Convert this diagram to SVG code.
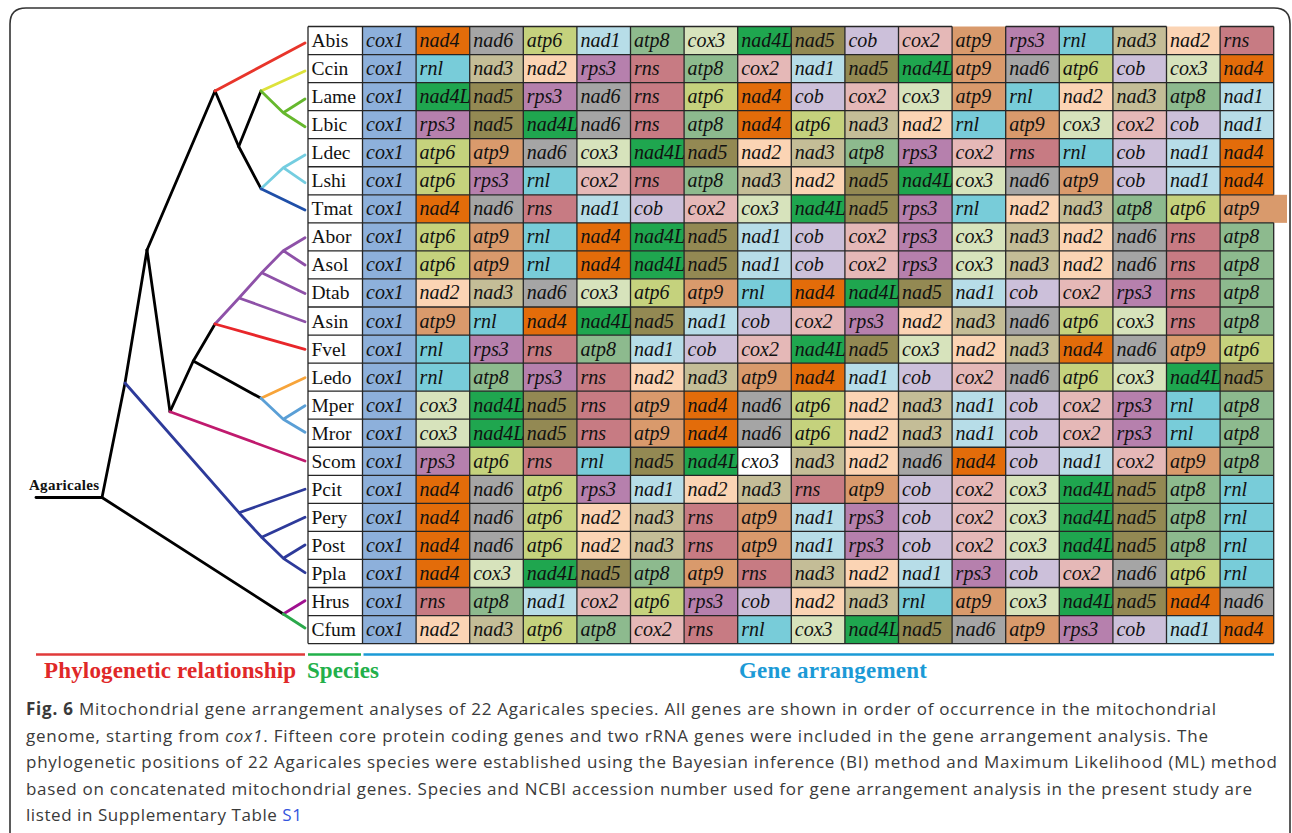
<svg xmlns="http://www.w3.org/2000/svg" width="1292" height="833" viewBox="0 0 1292 833">
<style>
.tbl text{font-family:"Liberation Serif","Times New Roman",serif;font-style:italic;font-size:20px;fill:#111}
.tbl text.s{font-style:normal;font-size:19.5px}
.sp{fill:#fff}
.cox1{fill:#8db0db}.cox2{fill:#e5b8b7}.cox3{fill:#d7e3bc}.cxo3{fill:#fff}
.nad1{fill:#b7dde8}.nad2{fill:#fbd4b4}.nad3{fill:#c4bd97}.nad4{fill:#e36c0a}.nad4L{fill:#1fa64f}.nad5{fill:#938953}.nad6{fill:#a5a5a5}
.atp6{fill:#c5d27d}.atp8{fill:#8dba8e}.atp9{fill:#d99a6c}.cob{fill:#ccc0da}.rnl{fill:#78ccd9}.rns{fill:#c77b83}.rps3{fill:#b680ad}
.br{fill:none;stroke-width:2.8;stroke-linecap:round;stroke-linejoin:round}
.lab{font-family:"Liberation Serif","Times New Roman",serif;font-weight:bold}
.cap{font-family:"Open Sans","Noto Sans","Liberation Sans",sans-serif;font-size:17px;fill:#3a3a3a}
</style>
<rect width="1292" height="833" fill="#fff"/>
<path d="M10,833 V24 Q10,8 26,8 H1274 Q1290,8 1290,24 V833" fill="none" stroke="#333" stroke-width="1.6"/>

<g id="connectors">
<g class="br" stroke="#000">
<path d="M36,497.5 H102"/>
<path d="M102,497.5 L125,383 L147,250"/>
<path d="M102,497.5 L283.3,614"/>
<path d="M147,250 L215,91"/>
<path d="M147,250 L170,411.7"/>
<path d="M215,91 L238.7,146.5 L261,188.7"/>
<path d="M238.7,146.5 L261,91"/>
<path d="M170,411.7 L193.3,361 L215,324"/>
<path d="M193.3,361 L261,398.3"/>
</g>
<path class="br" stroke="#e8352b" d="M215,91 L305,43"/>
<path class="br" stroke="#dde23b" d="M261,91 L305,71"/>
<path class="br" stroke="#66b82d" d="M261,91 L283.3,112.7 L305,99 M283.3,112.7 L305,126.7"/>
<path class="br" stroke="#74cde0" d="M261,188.7 L283.3,167.7 L305,155 M283.3,167.7 L305,182.7"/>
<path class="br" stroke="#1f4fa8" d="M261,188.7 L305,210"/>
<path class="br" stroke="#8e51a8" d="M215,324 L239,298 L261.7,272.7 L283.3,250.7 L305,237.7 M283.3,250.7 L305,265 M261.7,272.7 L305,293.5 M239,298 L305,321.7"/>
<path class="br" stroke="#e8262a" d="M215,324 L305,349.3"/>
<path class="br" stroke="#f7a43a" d="M261,398.3 L305,377.7"/>
<path class="br" stroke="#5a9fd6" d="M261,398.3 L283.3,419.3 L305,405.7 M283.3,419.3 L305,432.3"/>
<path class="br" stroke="#c01a6e" d="M170,411.7 L305,461"/>
<path class="br" stroke="#2d3a9a" d="M125,383 L239,512.7 L261.7,537.3 L283.3,558.3 L305,572.7 M239,512.7 L305,489.3 M261.7,537.3 L305,517.3 M283.3,558.3 L305,545"/>
<path class="br" stroke="#a01090" d="M283.3,614 L305,600.7"/>
<path class="br" stroke="#2aa84a" d="M283.3,614 L305,628"/>
</g>
<text class="lab" x="29" y="490" font-size="15" textLength="70" fill="#111">Agaricales</text>

<g class="tbl">
<g id="row-Abis" transform="translate(0,26.5)">
<rect class="sp" x="308" width="54.5" height="28.05"/><text class="s" x="311.5" y="20.5">Abis</text>
<rect class="cox1" x="362.5" width="53.6" height="28.05"/><text x="366" y="20.5">cox1</text>
<rect class="nad4" x="416.1" width="53.6" height="28.05"/><text x="419.6" y="20.5">nad4</text>
<rect class="nad6" x="469.7" width="53.6" height="28.05"/><text x="473.2" y="20.5">nad6</text>
<rect class="atp6" x="523.3" width="53.6" height="28.05"/><text x="526.8" y="20.5">atp6</text>
<rect class="nad1" x="576.9" width="53.6" height="28.05"/><text x="580.4" y="20.5">nad1</text>
<rect class="atp8" x="630.5" width="53.6" height="28.05"/><text x="634" y="20.5">atp8</text>
<rect class="cox3" x="684.1" width="53.6" height="28.05"/><text x="687.6" y="20.5">cox3</text>
<rect class="nad4L" x="737.7" width="53.6" height="28.05"/><text x="741.2" y="20.5">nad4L</text>
<rect class="nad5" x="791.3" width="53.6" height="28.05"/><text x="794.8" y="20.5">nad5</text>
<rect class="cob" x="844.9" width="53.6" height="28.05"/><text x="848.4" y="20.5">cob</text>
<rect class="cox2" x="898.5" width="53.6" height="28.05"/><text x="902" y="20.5">cox2</text>
<rect class="atp9" x="952.1" width="53.6" height="28.05"/><text x="955.6" y="20.5">atp9</text>
<rect class="rps3" x="1005.7" width="53.6" height="28.05"/><text x="1009.2" y="20.5">rps3</text>
<rect class="rnl" x="1059.3" width="53.6" height="28.05"/><text x="1062.8" y="20.5">rnl</text>
<rect class="nad3" x="1112.9" width="53.6" height="28.05"/><text x="1116.4" y="20.5">nad3</text>
<rect class="nad2" x="1166.5" width="53.6" height="28.05"/><text x="1170" y="20.5">nad2</text>
<rect class="rns" x="1220.1" width="53.6" height="28.05"/><text x="1223.6" y="20.5">rns</text>
</g>
<g id="row-Ccin" transform="translate(0,54.55)">
<rect class="sp" x="308" width="54.5" height="28.05"/><text class="s" x="311.5" y="20.5">Ccin</text>
<rect class="cox1" x="362.5" width="53.6" height="28.05"/><text x="366" y="20.5">cox1</text>
<rect class="rnl" x="416.1" width="53.6" height="28.05"/><text x="419.6" y="20.5">rnl</text>
<rect class="nad3" x="469.7" width="53.6" height="28.05"/><text x="473.2" y="20.5">nad3</text>
<rect class="nad2" x="523.3" width="53.6" height="28.05"/><text x="526.8" y="20.5">nad2</text>
<rect class="rps3" x="576.9" width="53.6" height="28.05"/><text x="580.4" y="20.5">rps3</text>
<rect class="rns" x="630.5" width="53.6" height="28.05"/><text x="634" y="20.5">rns</text>
<rect class="atp8" x="684.1" width="53.6" height="28.05"/><text x="687.6" y="20.5">atp8</text>
<rect class="cox2" x="737.7" width="53.6" height="28.05"/><text x="741.2" y="20.5">cox2</text>
<rect class="nad1" x="791.3" width="53.6" height="28.05"/><text x="794.8" y="20.5">nad1</text>
<rect class="nad5" x="844.9" width="53.6" height="28.05"/><text x="848.4" y="20.5">nad5</text>
<rect class="nad4L" x="898.5" width="53.6" height="28.05"/><text x="902" y="20.5">nad4L</text>
<rect class="atp9" x="952.1" width="53.6" height="28.05"/><text x="955.6" y="20.5">atp9</text>
<rect class="nad6" x="1005.7" width="53.6" height="28.05"/><text x="1009.2" y="20.5">nad6</text>
<rect class="atp6" x="1059.3" width="53.6" height="28.05"/><text x="1062.8" y="20.5">atp6</text>
<rect class="cob" x="1112.9" width="53.6" height="28.05"/><text x="1116.4" y="20.5">cob</text>
<rect class="cox3" x="1166.5" width="53.6" height="28.05"/><text x="1170" y="20.5">cox3</text>
<rect class="nad4" x="1220.1" width="53.6" height="28.05"/><text x="1223.6" y="20.5">nad4</text>
</g>
<g id="row-Lame" transform="translate(0,82.6)">
<rect class="sp" x="308" width="54.5" height="28.05"/><text class="s" x="311.5" y="20.5">Lame</text>
<rect class="cox1" x="362.5" width="53.6" height="28.05"/><text x="366" y="20.5">cox1</text>
<rect class="nad4L" x="416.1" width="53.6" height="28.05"/><text x="419.6" y="20.5">nad4L</text>
<rect class="nad5" x="469.7" width="53.6" height="28.05"/><text x="473.2" y="20.5">nad5</text>
<rect class="rps3" x="523.3" width="53.6" height="28.05"/><text x="526.8" y="20.5">rps3</text>
<rect class="nad6" x="576.9" width="53.6" height="28.05"/><text x="580.4" y="20.5">nad6</text>
<rect class="rns" x="630.5" width="53.6" height="28.05"/><text x="634" y="20.5">rns</text>
<rect class="atp6" x="684.1" width="53.6" height="28.05"/><text x="687.6" y="20.5">atp6</text>
<rect class="nad4" x="737.7" width="53.6" height="28.05"/><text x="741.2" y="20.5">nad4</text>
<rect class="cob" x="791.3" width="53.6" height="28.05"/><text x="794.8" y="20.5">cob</text>
<rect class="cox2" x="844.9" width="53.6" height="28.05"/><text x="848.4" y="20.5">cox2</text>
<rect class="cox3" x="898.5" width="53.6" height="28.05"/><text x="902" y="20.5">cox3</text>
<rect class="atp9" x="952.1" width="53.6" height="28.05"/><text x="955.6" y="20.5">atp9</text>
<rect class="rnl" x="1005.7" width="53.6" height="28.05"/><text x="1009.2" y="20.5">rnl</text>
<rect class="nad2" x="1059.3" width="53.6" height="28.05"/><text x="1062.8" y="20.5">nad2</text>
<rect class="nad3" x="1112.9" width="53.6" height="28.05"/><text x="1116.4" y="20.5">nad3</text>
<rect class="atp8" x="1166.5" width="53.6" height="28.05"/><text x="1170" y="20.5">atp8</text>
<rect class="nad1" x="1220.1" width="53.6" height="28.05"/><text x="1223.6" y="20.5">nad1</text>
</g>
<g id="row-Lbic" transform="translate(0,110.65)">
<rect class="sp" x="308" width="54.5" height="28.05"/><text class="s" x="311.5" y="20.5">Lbic</text>
<rect class="cox1" x="362.5" width="53.6" height="28.05"/><text x="366" y="20.5">cox1</text>
<rect class="rps3" x="416.1" width="53.6" height="28.05"/><text x="419.6" y="20.5">rps3</text>
<rect class="nad5" x="469.7" width="53.6" height="28.05"/><text x="473.2" y="20.5">nad5</text>
<rect class="nad4L" x="523.3" width="53.6" height="28.05"/><text x="526.8" y="20.5">nad4L</text>
<rect class="nad6" x="576.9" width="53.6" height="28.05"/><text x="580.4" y="20.5">nad6</text>
<rect class="rns" x="630.5" width="53.6" height="28.05"/><text x="634" y="20.5">rns</text>
<rect class="atp8" x="684.1" width="53.6" height="28.05"/><text x="687.6" y="20.5">atp8</text>
<rect class="nad4" x="737.7" width="53.6" height="28.05"/><text x="741.2" y="20.5">nad4</text>
<rect class="atp6" x="791.3" width="53.6" height="28.05"/><text x="794.8" y="20.5">atp6</text>
<rect class="nad3" x="844.9" width="53.6" height="28.05"/><text x="848.4" y="20.5">nad3</text>
<rect class="nad2" x="898.5" width="53.6" height="28.05"/><text x="902" y="20.5">nad2</text>
<rect class="rnl" x="952.1" width="53.6" height="28.05"/><text x="955.6" y="20.5">rnl</text>
<rect class="atp9" x="1005.7" width="53.6" height="28.05"/><text x="1009.2" y="20.5">atp9</text>
<rect class="cox3" x="1059.3" width="53.6" height="28.05"/><text x="1062.8" y="20.5">cox3</text>
<rect class="cox2" x="1112.9" width="53.6" height="28.05"/><text x="1116.4" y="20.5">cox2</text>
<rect class="cob" x="1166.5" width="53.6" height="28.05"/><text x="1170" y="20.5">cob</text>
<rect class="nad1" x="1220.1" width="53.6" height="28.05"/><text x="1223.6" y="20.5">nad1</text>
</g>
<g id="row-Ldec" transform="translate(0,138.7)">
<rect class="sp" x="308" width="54.5" height="28.05"/><text class="s" x="311.5" y="20.5">Ldec</text>
<rect class="cox1" x="362.5" width="53.6" height="28.05"/><text x="366" y="20.5">cox1</text>
<rect class="atp6" x="416.1" width="53.6" height="28.05"/><text x="419.6" y="20.5">atp6</text>
<rect class="atp9" x="469.7" width="53.6" height="28.05"/><text x="473.2" y="20.5">atp9</text>
<rect class="nad6" x="523.3" width="53.6" height="28.05"/><text x="526.8" y="20.5">nad6</text>
<rect class="cox3" x="576.9" width="53.6" height="28.05"/><text x="580.4" y="20.5">cox3</text>
<rect class="nad4L" x="630.5" width="53.6" height="28.05"/><text x="634" y="20.5">nad4L</text>
<rect class="nad5" x="684.1" width="53.6" height="28.05"/><text x="687.6" y="20.5">nad5</text>
<rect class="nad2" x="737.7" width="53.6" height="28.05"/><text x="741.2" y="20.5">nad2</text>
<rect class="nad3" x="791.3" width="53.6" height="28.05"/><text x="794.8" y="20.5">nad3</text>
<rect class="atp8" x="844.9" width="53.6" height="28.05"/><text x="848.4" y="20.5">atp8</text>
<rect class="rps3" x="898.5" width="53.6" height="28.05"/><text x="902" y="20.5">rps3</text>
<rect class="cox2" x="952.1" width="53.6" height="28.05"/><text x="955.6" y="20.5">cox2</text>
<rect class="rns" x="1005.7" width="53.6" height="28.05"/><text x="1009.2" y="20.5">rns</text>
<rect class="rnl" x="1059.3" width="53.6" height="28.05"/><text x="1062.8" y="20.5">rnl</text>
<rect class="cob" x="1112.9" width="53.6" height="28.05"/><text x="1116.4" y="20.5">cob</text>
<rect class="nad1" x="1166.5" width="53.6" height="28.05"/><text x="1170" y="20.5">nad1</text>
<rect class="nad4" x="1220.1" width="53.6" height="28.05"/><text x="1223.6" y="20.5">nad4</text>
</g>
<g id="row-Lshi" transform="translate(0,166.75)">
<rect class="sp" x="308" width="54.5" height="28.05"/><text class="s" x="311.5" y="20.5">Lshi</text>
<rect class="cox1" x="362.5" width="53.6" height="28.05"/><text x="366" y="20.5">cox1</text>
<rect class="atp6" x="416.1" width="53.6" height="28.05"/><text x="419.6" y="20.5">atp6</text>
<rect class="rps3" x="469.7" width="53.6" height="28.05"/><text x="473.2" y="20.5">rps3</text>
<rect class="rnl" x="523.3" width="53.6" height="28.05"/><text x="526.8" y="20.5">rnl</text>
<rect class="cox2" x="576.9" width="53.6" height="28.05"/><text x="580.4" y="20.5">cox2</text>
<rect class="rns" x="630.5" width="53.6" height="28.05"/><text x="634" y="20.5">rns</text>
<rect class="atp8" x="684.1" width="53.6" height="28.05"/><text x="687.6" y="20.5">atp8</text>
<rect class="nad3" x="737.7" width="53.6" height="28.05"/><text x="741.2" y="20.5">nad3</text>
<rect class="nad2" x="791.3" width="53.6" height="28.05"/><text x="794.8" y="20.5">nad2</text>
<rect class="nad5" x="844.9" width="53.6" height="28.05"/><text x="848.4" y="20.5">nad5</text>
<rect class="nad4L" x="898.5" width="53.6" height="28.05"/><text x="902" y="20.5">nad4L</text>
<rect class="cox3" x="952.1" width="53.6" height="28.05"/><text x="955.6" y="20.5">cox3</text>
<rect class="nad6" x="1005.7" width="53.6" height="28.05"/><text x="1009.2" y="20.5">nad6</text>
<rect class="atp9" x="1059.3" width="53.6" height="28.05"/><text x="1062.8" y="20.5">atp9</text>
<rect class="cob" x="1112.9" width="53.6" height="28.05"/><text x="1116.4" y="20.5">cob</text>
<rect class="nad1" x="1166.5" width="53.6" height="28.05"/><text x="1170" y="20.5">nad1</text>
<rect class="nad4" x="1220.1" width="53.6" height="28.05"/><text x="1223.6" y="20.5">nad4</text>
</g>
<g id="row-Tmat" transform="translate(0,194.8)">
<rect class="sp" x="308" width="54.5" height="28.05"/><text class="s" x="311.5" y="20.5">Tmat</text>
<rect class="cox1" x="362.5" width="53.6" height="28.05"/><text x="366" y="20.5">cox1</text>
<rect class="nad4" x="416.1" width="53.6" height="28.05"/><text x="419.6" y="20.5">nad4</text>
<rect class="nad6" x="469.7" width="53.6" height="28.05"/><text x="473.2" y="20.5">nad6</text>
<rect class="rns" x="523.3" width="53.6" height="28.05"/><text x="526.8" y="20.5">rns</text>
<rect class="nad1" x="576.9" width="53.6" height="28.05"/><text x="580.4" y="20.5">nad1</text>
<rect class="cob" x="630.5" width="53.6" height="28.05"/><text x="634" y="20.5">cob</text>
<rect class="cox2" x="684.1" width="53.6" height="28.05"/><text x="687.6" y="20.5">cox2</text>
<rect class="cox3" x="737.7" width="53.6" height="28.05"/><text x="741.2" y="20.5">cox3</text>
<rect class="nad4L" x="791.3" width="53.6" height="28.05"/><text x="794.8" y="20.5">nad4L</text>
<rect class="nad5" x="844.9" width="53.6" height="28.05"/><text x="848.4" y="20.5">nad5</text>
<rect class="rps3" x="898.5" width="53.6" height="28.05"/><text x="902" y="20.5">rps3</text>
<rect class="rnl" x="952.1" width="53.6" height="28.05"/><text x="955.6" y="20.5">rnl</text>
<rect class="nad2" x="1005.7" width="53.6" height="28.05"/><text x="1009.2" y="20.5">nad2</text>
<rect class="nad3" x="1059.3" width="53.6" height="28.05"/><text x="1062.8" y="20.5">nad3</text>
<rect class="atp8" x="1112.9" width="53.6" height="28.05"/><text x="1116.4" y="20.5">atp8</text>
<rect class="atp6" x="1166.5" width="53.6" height="28.05"/><text x="1170" y="20.5">atp6</text>
<rect class="atp9" x="1220.1" width="66.9" height="28.05"/><text x="1223.6" y="20.5">atp9</text>
</g>
<g id="row-Abor" transform="translate(0,222.85)">
<rect class="sp" x="308" width="54.5" height="28.05"/><text class="s" x="311.5" y="20.5">Abor</text>
<rect class="cox1" x="362.5" width="53.6" height="28.05"/><text x="366" y="20.5">cox1</text>
<rect class="atp6" x="416.1" width="53.6" height="28.05"/><text x="419.6" y="20.5">atp6</text>
<rect class="atp9" x="469.7" width="53.6" height="28.05"/><text x="473.2" y="20.5">atp9</text>
<rect class="rnl" x="523.3" width="53.6" height="28.05"/><text x="526.8" y="20.5">rnl</text>
<rect class="nad4" x="576.9" width="53.6" height="28.05"/><text x="580.4" y="20.5">nad4</text>
<rect class="nad4L" x="630.5" width="53.6" height="28.05"/><text x="634" y="20.5">nad4L</text>
<rect class="nad5" x="684.1" width="53.6" height="28.05"/><text x="687.6" y="20.5">nad5</text>
<rect class="nad1" x="737.7" width="53.6" height="28.05"/><text x="741.2" y="20.5">nad1</text>
<rect class="cob" x="791.3" width="53.6" height="28.05"/><text x="794.8" y="20.5">cob</text>
<rect class="cox2" x="844.9" width="53.6" height="28.05"/><text x="848.4" y="20.5">cox2</text>
<rect class="rps3" x="898.5" width="53.6" height="28.05"/><text x="902" y="20.5">rps3</text>
<rect class="cox3" x="952.1" width="53.6" height="28.05"/><text x="955.6" y="20.5">cox3</text>
<rect class="nad3" x="1005.7" width="53.6" height="28.05"/><text x="1009.2" y="20.5">nad3</text>
<rect class="nad2" x="1059.3" width="53.6" height="28.05"/><text x="1062.8" y="20.5">nad2</text>
<rect class="nad6" x="1112.9" width="53.6" height="28.05"/><text x="1116.4" y="20.5">nad6</text>
<rect class="rns" x="1166.5" width="53.6" height="28.05"/><text x="1170" y="20.5">rns</text>
<rect class="atp8" x="1220.1" width="53.6" height="28.05"/><text x="1223.6" y="20.5">atp8</text>
</g>
<g id="row-Asol" transform="translate(0,250.9)">
<rect class="sp" x="308" width="54.5" height="28.05"/><text class="s" x="311.5" y="20.5">Asol</text>
<rect class="cox1" x="362.5" width="53.6" height="28.05"/><text x="366" y="20.5">cox1</text>
<rect class="atp6" x="416.1" width="53.6" height="28.05"/><text x="419.6" y="20.5">atp6</text>
<rect class="atp9" x="469.7" width="53.6" height="28.05"/><text x="473.2" y="20.5">atp9</text>
<rect class="rnl" x="523.3" width="53.6" height="28.05"/><text x="526.8" y="20.5">rnl</text>
<rect class="nad4" x="576.9" width="53.6" height="28.05"/><text x="580.4" y="20.5">nad4</text>
<rect class="nad4L" x="630.5" width="53.6" height="28.05"/><text x="634" y="20.5">nad4L</text>
<rect class="nad5" x="684.1" width="53.6" height="28.05"/><text x="687.6" y="20.5">nad5</text>
<rect class="nad1" x="737.7" width="53.6" height="28.05"/><text x="741.2" y="20.5">nad1</text>
<rect class="cob" x="791.3" width="53.6" height="28.05"/><text x="794.8" y="20.5">cob</text>
<rect class="cox2" x="844.9" width="53.6" height="28.05"/><text x="848.4" y="20.5">cox2</text>
<rect class="rps3" x="898.5" width="53.6" height="28.05"/><text x="902" y="20.5">rps3</text>
<rect class="cox3" x="952.1" width="53.6" height="28.05"/><text x="955.6" y="20.5">cox3</text>
<rect class="nad3" x="1005.7" width="53.6" height="28.05"/><text x="1009.2" y="20.5">nad3</text>
<rect class="nad2" x="1059.3" width="53.6" height="28.05"/><text x="1062.8" y="20.5">nad2</text>
<rect class="nad6" x="1112.9" width="53.6" height="28.05"/><text x="1116.4" y="20.5">nad6</text>
<rect class="rns" x="1166.5" width="53.6" height="28.05"/><text x="1170" y="20.5">rns</text>
<rect class="atp8" x="1220.1" width="53.6" height="28.05"/><text x="1223.6" y="20.5">atp8</text>
</g>
<g id="row-Dtab" transform="translate(0,278.95)">
<rect class="sp" x="308" width="54.5" height="28.05"/><text class="s" x="311.5" y="20.5">Dtab</text>
<rect class="cox1" x="362.5" width="53.6" height="28.05"/><text x="366" y="20.5">cox1</text>
<rect class="nad2" x="416.1" width="53.6" height="28.05"/><text x="419.6" y="20.5">nad2</text>
<rect class="nad3" x="469.7" width="53.6" height="28.05"/><text x="473.2" y="20.5">nad3</text>
<rect class="nad6" x="523.3" width="53.6" height="28.05"/><text x="526.8" y="20.5">nad6</text>
<rect class="cox3" x="576.9" width="53.6" height="28.05"/><text x="580.4" y="20.5">cox3</text>
<rect class="atp6" x="630.5" width="53.6" height="28.05"/><text x="634" y="20.5">atp6</text>
<rect class="atp9" x="684.1" width="53.6" height="28.05"/><text x="687.6" y="20.5">atp9</text>
<rect class="rnl" x="737.7" width="53.6" height="28.05"/><text x="741.2" y="20.5">rnl</text>
<rect class="nad4" x="791.3" width="53.6" height="28.05"/><text x="794.8" y="20.5">nad4</text>
<rect class="nad4L" x="844.9" width="53.6" height="28.05"/><text x="848.4" y="20.5">nad4L</text>
<rect class="nad5" x="898.5" width="53.6" height="28.05"/><text x="902" y="20.5">nad5</text>
<rect class="nad1" x="952.1" width="53.6" height="28.05"/><text x="955.6" y="20.5">nad1</text>
<rect class="cob" x="1005.7" width="53.6" height="28.05"/><text x="1009.2" y="20.5">cob</text>
<rect class="cox2" x="1059.3" width="53.6" height="28.05"/><text x="1062.8" y="20.5">cox2</text>
<rect class="rps3" x="1112.9" width="53.6" height="28.05"/><text x="1116.4" y="20.5">rps3</text>
<rect class="rns" x="1166.5" width="53.6" height="28.05"/><text x="1170" y="20.5">rns</text>
<rect class="atp8" x="1220.1" width="53.6" height="28.05"/><text x="1223.6" y="20.5">atp8</text>
</g>
<g id="row-Asin" transform="translate(0,307)">
<rect class="sp" x="308" width="54.5" height="28.05"/><text class="s" x="311.5" y="20.5">Asin</text>
<rect class="cox1" x="362.5" width="53.6" height="28.05"/><text x="366" y="20.5">cox1</text>
<rect class="atp9" x="416.1" width="53.6" height="28.05"/><text x="419.6" y="20.5">atp9</text>
<rect class="rnl" x="469.7" width="53.6" height="28.05"/><text x="473.2" y="20.5">rnl</text>
<rect class="nad4" x="523.3" width="53.6" height="28.05"/><text x="526.8" y="20.5">nad4</text>
<rect class="nad4L" x="576.9" width="53.6" height="28.05"/><text x="580.4" y="20.5">nad4L</text>
<rect class="nad5" x="630.5" width="53.6" height="28.05"/><text x="634" y="20.5">nad5</text>
<rect class="nad1" x="684.1" width="53.6" height="28.05"/><text x="687.6" y="20.5">nad1</text>
<rect class="cob" x="737.7" width="53.6" height="28.05"/><text x="741.2" y="20.5">cob</text>
<rect class="cox2" x="791.3" width="53.6" height="28.05"/><text x="794.8" y="20.5">cox2</text>
<rect class="rps3" x="844.9" width="53.6" height="28.05"/><text x="848.4" y="20.5">rps3</text>
<rect class="nad2" x="898.5" width="53.6" height="28.05"/><text x="902" y="20.5">nad2</text>
<rect class="nad3" x="952.1" width="53.6" height="28.05"/><text x="955.6" y="20.5">nad3</text>
<rect class="nad6" x="1005.7" width="53.6" height="28.05"/><text x="1009.2" y="20.5">nad6</text>
<rect class="atp6" x="1059.3" width="53.6" height="28.05"/><text x="1062.8" y="20.5">atp6</text>
<rect class="cox3" x="1112.9" width="53.6" height="28.05"/><text x="1116.4" y="20.5">cox3</text>
<rect class="rns" x="1166.5" width="53.6" height="28.05"/><text x="1170" y="20.5">rns</text>
<rect class="atp8" x="1220.1" width="53.6" height="28.05"/><text x="1223.6" y="20.5">atp8</text>
</g>
<g id="row-Fvel" transform="translate(0,335.05)">
<rect class="sp" x="308" width="54.5" height="28.05"/><text class="s" x="311.5" y="20.5">Fvel</text>
<rect class="cox1" x="362.5" width="53.6" height="28.05"/><text x="366" y="20.5">cox1</text>
<rect class="rnl" x="416.1" width="53.6" height="28.05"/><text x="419.6" y="20.5">rnl</text>
<rect class="rps3" x="469.7" width="53.6" height="28.05"/><text x="473.2" y="20.5">rps3</text>
<rect class="rns" x="523.3" width="53.6" height="28.05"/><text x="526.8" y="20.5">rns</text>
<rect class="atp8" x="576.9" width="53.6" height="28.05"/><text x="580.4" y="20.5">atp8</text>
<rect class="nad1" x="630.5" width="53.6" height="28.05"/><text x="634" y="20.5">nad1</text>
<rect class="cob" x="684.1" width="53.6" height="28.05"/><text x="687.6" y="20.5">cob</text>
<rect class="cox2" x="737.7" width="53.6" height="28.05"/><text x="741.2" y="20.5">cox2</text>
<rect class="nad4L" x="791.3" width="53.6" height="28.05"/><text x="794.8" y="20.5">nad4L</text>
<rect class="nad5" x="844.9" width="53.6" height="28.05"/><text x="848.4" y="20.5">nad5</text>
<rect class="cox3" x="898.5" width="53.6" height="28.05"/><text x="902" y="20.5">cox3</text>
<rect class="nad2" x="952.1" width="53.6" height="28.05"/><text x="955.6" y="20.5">nad2</text>
<rect class="nad3" x="1005.7" width="53.6" height="28.05"/><text x="1009.2" y="20.5">nad3</text>
<rect class="nad4" x="1059.3" width="53.6" height="28.05"/><text x="1062.8" y="20.5">nad4</text>
<rect class="nad6" x="1112.9" width="53.6" height="28.05"/><text x="1116.4" y="20.5">nad6</text>
<rect class="atp9" x="1166.5" width="53.6" height="28.05"/><text x="1170" y="20.5">atp9</text>
<rect class="atp6" x="1220.1" width="53.6" height="28.05"/><text x="1223.6" y="20.5">atp6</text>
</g>
<g id="row-Ledo" transform="translate(0,363.1)">
<rect class="sp" x="308" width="54.5" height="28.05"/><text class="s" x="311.5" y="20.5">Ledo</text>
<rect class="cox1" x="362.5" width="53.6" height="28.05"/><text x="366" y="20.5">cox1</text>
<rect class="rnl" x="416.1" width="53.6" height="28.05"/><text x="419.6" y="20.5">rnl</text>
<rect class="atp8" x="469.7" width="53.6" height="28.05"/><text x="473.2" y="20.5">atp8</text>
<rect class="rps3" x="523.3" width="53.6" height="28.05"/><text x="526.8" y="20.5">rps3</text>
<rect class="rns" x="576.9" width="53.6" height="28.05"/><text x="580.4" y="20.5">rns</text>
<rect class="nad2" x="630.5" width="53.6" height="28.05"/><text x="634" y="20.5">nad2</text>
<rect class="nad3" x="684.1" width="53.6" height="28.05"/><text x="687.6" y="20.5">nad3</text>
<rect class="atp9" x="737.7" width="53.6" height="28.05"/><text x="741.2" y="20.5">atp9</text>
<rect class="nad4" x="791.3" width="53.6" height="28.05"/><text x="794.8" y="20.5">nad4</text>
<rect class="nad1" x="844.9" width="53.6" height="28.05"/><text x="848.4" y="20.5">nad1</text>
<rect class="cob" x="898.5" width="53.6" height="28.05"/><text x="902" y="20.5">cob</text>
<rect class="cox2" x="952.1" width="53.6" height="28.05"/><text x="955.6" y="20.5">cox2</text>
<rect class="nad6" x="1005.7" width="53.6" height="28.05"/><text x="1009.2" y="20.5">nad6</text>
<rect class="atp6" x="1059.3" width="53.6" height="28.05"/><text x="1062.8" y="20.5">atp6</text>
<rect class="cox3" x="1112.9" width="53.6" height="28.05"/><text x="1116.4" y="20.5">cox3</text>
<rect class="nad4L" x="1166.5" width="53.6" height="28.05"/><text x="1170" y="20.5">nad4L</text>
<rect class="nad5" x="1220.1" width="53.6" height="28.05"/><text x="1223.6" y="20.5">nad5</text>
</g>
<g id="row-Mper" transform="translate(0,391.15)">
<rect class="sp" x="308" width="54.5" height="28.05"/><text class="s" x="311.5" y="20.5">Mper</text>
<rect class="cox1" x="362.5" width="53.6" height="28.05"/><text x="366" y="20.5">cox1</text>
<rect class="cox3" x="416.1" width="53.6" height="28.05"/><text x="419.6" y="20.5">cox3</text>
<rect class="nad4L" x="469.7" width="53.6" height="28.05"/><text x="473.2" y="20.5">nad4L</text>
<rect class="nad5" x="523.3" width="53.6" height="28.05"/><text x="526.8" y="20.5">nad5</text>
<rect class="rns" x="576.9" width="53.6" height="28.05"/><text x="580.4" y="20.5">rns</text>
<rect class="atp9" x="630.5" width="53.6" height="28.05"/><text x="634" y="20.5">atp9</text>
<rect class="nad4" x="684.1" width="53.6" height="28.05"/><text x="687.6" y="20.5">nad4</text>
<rect class="nad6" x="737.7" width="53.6" height="28.05"/><text x="741.2" y="20.5">nad6</text>
<rect class="atp6" x="791.3" width="53.6" height="28.05"/><text x="794.8" y="20.5">atp6</text>
<rect class="nad2" x="844.9" width="53.6" height="28.05"/><text x="848.4" y="20.5">nad2</text>
<rect class="nad3" x="898.5" width="53.6" height="28.05"/><text x="902" y="20.5">nad3</text>
<rect class="nad1" x="952.1" width="53.6" height="28.05"/><text x="955.6" y="20.5">nad1</text>
<rect class="cob" x="1005.7" width="53.6" height="28.05"/><text x="1009.2" y="20.5">cob</text>
<rect class="cox2" x="1059.3" width="53.6" height="28.05"/><text x="1062.8" y="20.5">cox2</text>
<rect class="rps3" x="1112.9" width="53.6" height="28.05"/><text x="1116.4" y="20.5">rps3</text>
<rect class="rnl" x="1166.5" width="53.6" height="28.05"/><text x="1170" y="20.5">rnl</text>
<rect class="atp8" x="1220.1" width="53.6" height="28.05"/><text x="1223.6" y="20.5">atp8</text>
</g>
<g id="row-Mror" transform="translate(0,419.2)">
<rect class="sp" x="308" width="54.5" height="28.05"/><text class="s" x="311.5" y="20.5">Mror</text>
<rect class="cox1" x="362.5" width="53.6" height="28.05"/><text x="366" y="20.5">cox1</text>
<rect class="cox3" x="416.1" width="53.6" height="28.05"/><text x="419.6" y="20.5">cox3</text>
<rect class="nad4L" x="469.7" width="53.6" height="28.05"/><text x="473.2" y="20.5">nad4L</text>
<rect class="nad5" x="523.3" width="53.6" height="28.05"/><text x="526.8" y="20.5">nad5</text>
<rect class="rns" x="576.9" width="53.6" height="28.05"/><text x="580.4" y="20.5">rns</text>
<rect class="atp9" x="630.5" width="53.6" height="28.05"/><text x="634" y="20.5">atp9</text>
<rect class="nad4" x="684.1" width="53.6" height="28.05"/><text x="687.6" y="20.5">nad4</text>
<rect class="nad6" x="737.7" width="53.6" height="28.05"/><text x="741.2" y="20.5">nad6</text>
<rect class="atp6" x="791.3" width="53.6" height="28.05"/><text x="794.8" y="20.5">atp6</text>
<rect class="nad2" x="844.9" width="53.6" height="28.05"/><text x="848.4" y="20.5">nad2</text>
<rect class="nad3" x="898.5" width="53.6" height="28.05"/><text x="902" y="20.5">nad3</text>
<rect class="nad1" x="952.1" width="53.6" height="28.05"/><text x="955.6" y="20.5">nad1</text>
<rect class="cob" x="1005.7" width="53.6" height="28.05"/><text x="1009.2" y="20.5">cob</text>
<rect class="cox2" x="1059.3" width="53.6" height="28.05"/><text x="1062.8" y="20.5">cox2</text>
<rect class="rps3" x="1112.9" width="53.6" height="28.05"/><text x="1116.4" y="20.5">rps3</text>
<rect class="rnl" x="1166.5" width="53.6" height="28.05"/><text x="1170" y="20.5">rnl</text>
<rect class="atp8" x="1220.1" width="53.6" height="28.05"/><text x="1223.6" y="20.5">atp8</text>
</g>
<g id="row-Scom" transform="translate(0,447.25)">
<rect class="sp" x="308" width="54.5" height="28.05"/><text class="s" x="311.5" y="20.5">Scom</text>
<rect class="cox1" x="362.5" width="53.6" height="28.05"/><text x="366" y="20.5">cox1</text>
<rect class="rps3" x="416.1" width="53.6" height="28.05"/><text x="419.6" y="20.5">rps3</text>
<rect class="atp6" x="469.7" width="53.6" height="28.05"/><text x="473.2" y="20.5">atp6</text>
<rect class="rns" x="523.3" width="53.6" height="28.05"/><text x="526.8" y="20.5">rns</text>
<rect class="rnl" x="576.9" width="53.6" height="28.05"/><text x="580.4" y="20.5">rnl</text>
<rect class="nad5" x="630.5" width="53.6" height="28.05"/><text x="634" y="20.5">nad5</text>
<rect class="nad4L" x="684.1" width="53.6" height="28.05"/><text x="687.6" y="20.5">nad4L</text>
<rect class="cxo3" x="737.7" width="53.6" height="28.05"/><text x="741.2" y="20.5">cxo3</text>
<rect class="nad3" x="791.3" width="53.6" height="28.05"/><text x="794.8" y="20.5">nad3</text>
<rect class="nad2" x="844.9" width="53.6" height="28.05"/><text x="848.4" y="20.5">nad2</text>
<rect class="nad6" x="898.5" width="53.6" height="28.05"/><text x="902" y="20.5">nad6</text>
<rect class="nad4" x="952.1" width="53.6" height="28.05"/><text x="955.6" y="20.5">nad4</text>
<rect class="cob" x="1005.7" width="53.6" height="28.05"/><text x="1009.2" y="20.5">cob</text>
<rect class="nad1" x="1059.3" width="53.6" height="28.05"/><text x="1062.8" y="20.5">nad1</text>
<rect class="cox2" x="1112.9" width="53.6" height="28.05"/><text x="1116.4" y="20.5">cox2</text>
<rect class="atp9" x="1166.5" width="53.6" height="28.05"/><text x="1170" y="20.5">atp9</text>
<rect class="atp8" x="1220.1" width="53.6" height="28.05"/><text x="1223.6" y="20.5">atp8</text>
</g>
<g id="row-Pcit" transform="translate(0,475.3)">
<rect class="sp" x="308" width="54.5" height="28.05"/><text class="s" x="311.5" y="20.5">Pcit</text>
<rect class="cox1" x="362.5" width="53.6" height="28.05"/><text x="366" y="20.5">cox1</text>
<rect class="nad4" x="416.1" width="53.6" height="28.05"/><text x="419.6" y="20.5">nad4</text>
<rect class="nad6" x="469.7" width="53.6" height="28.05"/><text x="473.2" y="20.5">nad6</text>
<rect class="atp6" x="523.3" width="53.6" height="28.05"/><text x="526.8" y="20.5">atp6</text>
<rect class="rps3" x="576.9" width="53.6" height="28.05"/><text x="580.4" y="20.5">rps3</text>
<rect class="nad1" x="630.5" width="53.6" height="28.05"/><text x="634" y="20.5">nad1</text>
<rect class="nad2" x="684.1" width="53.6" height="28.05"/><text x="687.6" y="20.5">nad2</text>
<rect class="nad3" x="737.7" width="53.6" height="28.05"/><text x="741.2" y="20.5">nad3</text>
<rect class="rns" x="791.3" width="53.6" height="28.05"/><text x="794.8" y="20.5">rns</text>
<rect class="atp9" x="844.9" width="53.6" height="28.05"/><text x="848.4" y="20.5">atp9</text>
<rect class="cob" x="898.5" width="53.6" height="28.05"/><text x="902" y="20.5">cob</text>
<rect class="cox2" x="952.1" width="53.6" height="28.05"/><text x="955.6" y="20.5">cox2</text>
<rect class="cox3" x="1005.7" width="53.6" height="28.05"/><text x="1009.2" y="20.5">cox3</text>
<rect class="nad4L" x="1059.3" width="53.6" height="28.05"/><text x="1062.8" y="20.5">nad4L</text>
<rect class="nad5" x="1112.9" width="53.6" height="28.05"/><text x="1116.4" y="20.5">nad5</text>
<rect class="atp8" x="1166.5" width="53.6" height="28.05"/><text x="1170" y="20.5">atp8</text>
<rect class="rnl" x="1220.1" width="53.6" height="28.05"/><text x="1223.6" y="20.5">rnl</text>
</g>
<g id="row-Pery" transform="translate(0,503.35)">
<rect class="sp" x="308" width="54.5" height="28.05"/><text class="s" x="311.5" y="20.5">Pery</text>
<rect class="cox1" x="362.5" width="53.6" height="28.05"/><text x="366" y="20.5">cox1</text>
<rect class="nad4" x="416.1" width="53.6" height="28.05"/><text x="419.6" y="20.5">nad4</text>
<rect class="nad6" x="469.7" width="53.6" height="28.05"/><text x="473.2" y="20.5">nad6</text>
<rect class="atp6" x="523.3" width="53.6" height="28.05"/><text x="526.8" y="20.5">atp6</text>
<rect class="nad2" x="576.9" width="53.6" height="28.05"/><text x="580.4" y="20.5">nad2</text>
<rect class="nad3" x="630.5" width="53.6" height="28.05"/><text x="634" y="20.5">nad3</text>
<rect class="rns" x="684.1" width="53.6" height="28.05"/><text x="687.6" y="20.5">rns</text>
<rect class="atp9" x="737.7" width="53.6" height="28.05"/><text x="741.2" y="20.5">atp9</text>
<rect class="nad1" x="791.3" width="53.6" height="28.05"/><text x="794.8" y="20.5">nad1</text>
<rect class="rps3" x="844.9" width="53.6" height="28.05"/><text x="848.4" y="20.5">rps3</text>
<rect class="cob" x="898.5" width="53.6" height="28.05"/><text x="902" y="20.5">cob</text>
<rect class="cox2" x="952.1" width="53.6" height="28.05"/><text x="955.6" y="20.5">cox2</text>
<rect class="cox3" x="1005.7" width="53.6" height="28.05"/><text x="1009.2" y="20.5">cox3</text>
<rect class="nad4L" x="1059.3" width="53.6" height="28.05"/><text x="1062.8" y="20.5">nad4L</text>
<rect class="nad5" x="1112.9" width="53.6" height="28.05"/><text x="1116.4" y="20.5">nad5</text>
<rect class="atp8" x="1166.5" width="53.6" height="28.05"/><text x="1170" y="20.5">atp8</text>
<rect class="rnl" x="1220.1" width="53.6" height="28.05"/><text x="1223.6" y="20.5">rnl</text>
</g>
<g id="row-Post" transform="translate(0,531.4)">
<rect class="sp" x="308" width="54.5" height="28.05"/><text class="s" x="311.5" y="20.5">Post</text>
<rect class="cox1" x="362.5" width="53.6" height="28.05"/><text x="366" y="20.5">cox1</text>
<rect class="nad4" x="416.1" width="53.6" height="28.05"/><text x="419.6" y="20.5">nad4</text>
<rect class="nad6" x="469.7" width="53.6" height="28.05"/><text x="473.2" y="20.5">nad6</text>
<rect class="atp6" x="523.3" width="53.6" height="28.05"/><text x="526.8" y="20.5">atp6</text>
<rect class="nad2" x="576.9" width="53.6" height="28.05"/><text x="580.4" y="20.5">nad2</text>
<rect class="nad3" x="630.5" width="53.6" height="28.05"/><text x="634" y="20.5">nad3</text>
<rect class="rns" x="684.1" width="53.6" height="28.05"/><text x="687.6" y="20.5">rns</text>
<rect class="atp9" x="737.7" width="53.6" height="28.05"/><text x="741.2" y="20.5">atp9</text>
<rect class="nad1" x="791.3" width="53.6" height="28.05"/><text x="794.8" y="20.5">nad1</text>
<rect class="rps3" x="844.9" width="53.6" height="28.05"/><text x="848.4" y="20.5">rps3</text>
<rect class="cob" x="898.5" width="53.6" height="28.05"/><text x="902" y="20.5">cob</text>
<rect class="cox2" x="952.1" width="53.6" height="28.05"/><text x="955.6" y="20.5">cox2</text>
<rect class="cox3" x="1005.7" width="53.6" height="28.05"/><text x="1009.2" y="20.5">cox3</text>
<rect class="nad4L" x="1059.3" width="53.6" height="28.05"/><text x="1062.8" y="20.5">nad4L</text>
<rect class="nad5" x="1112.9" width="53.6" height="28.05"/><text x="1116.4" y="20.5">nad5</text>
<rect class="atp8" x="1166.5" width="53.6" height="28.05"/><text x="1170" y="20.5">atp8</text>
<rect class="rnl" x="1220.1" width="53.6" height="28.05"/><text x="1223.6" y="20.5">rnl</text>
</g>
<g id="row-Ppla" transform="translate(0,559.45)">
<rect class="sp" x="308" width="54.5" height="28.05"/><text class="s" x="311.5" y="20.5">Ppla</text>
<rect class="cox1" x="362.5" width="53.6" height="28.05"/><text x="366" y="20.5">cox1</text>
<rect class="nad4" x="416.1" width="53.6" height="28.05"/><text x="419.6" y="20.5">nad4</text>
<rect class="cox3" x="469.7" width="53.6" height="28.05"/><text x="473.2" y="20.5">cox3</text>
<rect class="nad4L" x="523.3" width="53.6" height="28.05"/><text x="526.8" y="20.5">nad4L</text>
<rect class="nad5" x="576.9" width="53.6" height="28.05"/><text x="580.4" y="20.5">nad5</text>
<rect class="atp8" x="630.5" width="53.6" height="28.05"/><text x="634" y="20.5">atp8</text>
<rect class="atp9" x="684.1" width="53.6" height="28.05"/><text x="687.6" y="20.5">atp9</text>
<rect class="rns" x="737.7" width="53.6" height="28.05"/><text x="741.2" y="20.5">rns</text>
<rect class="nad3" x="791.3" width="53.6" height="28.05"/><text x="794.8" y="20.5">nad3</text>
<rect class="nad2" x="844.9" width="53.6" height="28.05"/><text x="848.4" y="20.5">nad2</text>
<rect class="nad1" x="898.5" width="53.6" height="28.05"/><text x="902" y="20.5">nad1</text>
<rect class="rps3" x="952.1" width="53.6" height="28.05"/><text x="955.6" y="20.5">rps3</text>
<rect class="cob" x="1005.7" width="53.6" height="28.05"/><text x="1009.2" y="20.5">cob</text>
<rect class="cox2" x="1059.3" width="53.6" height="28.05"/><text x="1062.8" y="20.5">cox2</text>
<rect class="nad6" x="1112.9" width="53.6" height="28.05"/><text x="1116.4" y="20.5">nad6</text>
<rect class="atp6" x="1166.5" width="53.6" height="28.05"/><text x="1170" y="20.5">atp6</text>
<rect class="rnl" x="1220.1" width="53.6" height="28.05"/><text x="1223.6" y="20.5">rnl</text>
</g>
<g id="row-Hrus" transform="translate(0,587.5)">
<rect class="sp" x="308" width="54.5" height="28.05"/><text class="s" x="311.5" y="20.5">Hrus</text>
<rect class="cox1" x="362.5" width="53.6" height="28.05"/><text x="366" y="20.5">cox1</text>
<rect class="rns" x="416.1" width="53.6" height="28.05"/><text x="419.6" y="20.5">rns</text>
<rect class="atp8" x="469.7" width="53.6" height="28.05"/><text x="473.2" y="20.5">atp8</text>
<rect class="nad1" x="523.3" width="53.6" height="28.05"/><text x="526.8" y="20.5">nad1</text>
<rect class="cox2" x="576.9" width="53.6" height="28.05"/><text x="580.4" y="20.5">cox2</text>
<rect class="atp6" x="630.5" width="53.6" height="28.05"/><text x="634" y="20.5">atp6</text>
<rect class="rps3" x="684.1" width="53.6" height="28.05"/><text x="687.6" y="20.5">rps3</text>
<rect class="cob" x="737.7" width="53.6" height="28.05"/><text x="741.2" y="20.5">cob</text>
<rect class="nad2" x="791.3" width="53.6" height="28.05"/><text x="794.8" y="20.5">nad2</text>
<rect class="nad3" x="844.9" width="53.6" height="28.05"/><text x="848.4" y="20.5">nad3</text>
<rect class="rnl" x="898.5" width="53.6" height="28.05"/><text x="902" y="20.5">rnl</text>
<rect class="atp9" x="952.1" width="53.6" height="28.05"/><text x="955.6" y="20.5">atp9</text>
<rect class="cox3" x="1005.7" width="53.6" height="28.05"/><text x="1009.2" y="20.5">cox3</text>
<rect class="nad4L" x="1059.3" width="53.6" height="28.05"/><text x="1062.8" y="20.5">nad4L</text>
<rect class="nad5" x="1112.9" width="53.6" height="28.05"/><text x="1116.4" y="20.5">nad5</text>
<rect class="nad4" x="1166.5" width="53.6" height="28.05"/><text x="1170" y="20.5">nad4</text>
<rect class="nad6" x="1220.1" width="53.6" height="28.05"/><text x="1223.6" y="20.5">nad6</text>
</g>
<g id="row-Cfum" transform="translate(0,615.55)">
<rect class="sp" x="308" width="54.5" height="28.05"/><text class="s" x="311.5" y="20.5">Cfum</text>
<rect class="cox1" x="362.5" width="53.6" height="28.05"/><text x="366" y="20.5">cox1</text>
<rect class="nad2" x="416.1" width="53.6" height="28.05"/><text x="419.6" y="20.5">nad2</text>
<rect class="nad3" x="469.7" width="53.6" height="28.05"/><text x="473.2" y="20.5">nad3</text>
<rect class="atp6" x="523.3" width="53.6" height="28.05"/><text x="526.8" y="20.5">atp6</text>
<rect class="atp8" x="576.9" width="53.6" height="28.05"/><text x="580.4" y="20.5">atp8</text>
<rect class="cox2" x="630.5" width="53.6" height="28.05"/><text x="634" y="20.5">cox2</text>
<rect class="rns" x="684.1" width="53.6" height="28.05"/><text x="687.6" y="20.5">rns</text>
<rect class="rnl" x="737.7" width="53.6" height="28.05"/><text x="741.2" y="20.5">rnl</text>
<rect class="cox3" x="791.3" width="53.6" height="28.05"/><text x="794.8" y="20.5">cox3</text>
<rect class="nad4L" x="844.9" width="53.6" height="28.05"/><text x="848.4" y="20.5">nad4L</text>
<rect class="nad5" x="898.5" width="53.6" height="28.05"/><text x="902" y="20.5">nad5</text>
<rect class="nad6" x="952.1" width="53.6" height="28.05"/><text x="955.6" y="20.5">nad6</text>
<rect class="atp9" x="1005.7" width="53.6" height="28.05"/><text x="1009.2" y="20.5">atp9</text>
<rect class="rps3" x="1059.3" width="53.6" height="28.05"/><text x="1062.8" y="20.5">rps3</text>
<rect class="cob" x="1112.9" width="53.6" height="28.05"/><text x="1116.4" y="20.5">cob</text>
<rect class="nad1" x="1166.5" width="53.6" height="28.05"/><text x="1170" y="20.5">nad1</text>
<rect class="nad4" x="1220.1" width="53.6" height="28.05"/><text x="1223.6" y="20.5">nad4</text>
</g>
</g>

<g id="grid" fill="none" stroke="#262626" stroke-width="1.3">
<path d="M308,26.5 H952.1 M1005.7,26.5 H1166.5 M1220.1,26.5 H1273.7 M308,54.55 H1273.7 M308,82.6 H1273.7 M308,110.65 H1273.7 M308,138.7 H1273.7 M308,166.75 H1273.7 M308,194.8 H1273.7 M308,222.85 H1273.7 M308,250.9 H1273.7 M308,278.95 H1273.7 M308,307 H1273.7 M308,335.05 H1273.7 M308,363.1 H1273.7 M308,391.15 H1273.7 M308,419.2 H1273.7 M308,447.25 H1273.7 M308,475.3 H1273.7 M308,503.35 H1273.7 M308,531.4 H1273.7 M308,559.45 H1273.7 M308,587.5 H1273.7 M308,615.55 H1273.7 M308,643.6 H1273.7"/>
<path d="M308,26.5 V643.6 M362.5,26.5 V643.6 M416.1,26.5 V643.6 M469.7,26.5 V643.6 M523.3,26.5 V643.6 M576.9,26.5 V643.6 M630.5,26.5 V643.6 M684.1,26.5 V643.6 M737.7,26.5 V643.6 M791.3,26.5 V643.6 M844.9,26.5 V643.6 M898.5,26.5 V643.6 M952.1,26.5 V643.6 M1005.7,26.5 V643.6 M1059.3,26.5 V643.6 M1112.9,26.5 V643.6 M1166.5,26.5 V643.6 M1220.1,26.5 V643.6 M1273.7,26.5 V194.8 M1273.7,222.85 V643.6"/>
</g>

<g id="legend">
<line x1="36" y1="654.5" x2="305" y2="654.5" stroke="#e03a3a" stroke-width="2.5"/>
<line x1="308" y1="654.5" x2="361" y2="654.5" stroke="#22b04a" stroke-width="2.5"/>
<line x1="363.5" y1="654.5" x2="1274" y2="654.5" stroke="#1b9ad6" stroke-width="2.5"/>
<text class="lab" x="44" y="678" font-size="23" textLength="252" fill="#e02828">Phylogenetic relationship</text>
<text class="lab" x="307" y="678" font-size="23" textLength="72" fill="#22b04a">Species</text>
<text class="lab" x="739" y="678" font-size="23" textLength="188" fill="#1b9ad6">Gene arrangement</text>
</g>

<g id="caption" class="cap">
<text x="26" y="715" textLength="1190"><tspan font-weight="bold">Fig. 6</tspan> Mitochondrial gene arrangement analyses of 22 Agaricales species. All genes are shown in order of occurrence in the mitochondrial</text>
<text x="26" y="741.5" textLength="1182">genome, starting from <tspan font-style="italic">cox1</tspan>. Fifteen core protein coding genes and two rRNA genes were included in the gene arrangement analysis. The</text>
<text x="26" y="768" textLength="1251">phylogenetic positions of 22 Agaricales species were established using the Bayesian inference (BI) method and Maximum Likelihood (ML) method</text>
<text x="26" y="794.5" textLength="1226">based on concatenated mitochondrial genes. Species and NCBI accession number used for gene arrangement analysis in the present study are</text>
<text x="26" y="821" textLength="276">listed in Supplementary Table <tspan fill="#3355dd">S1</tspan></text>
</g>
</svg>
